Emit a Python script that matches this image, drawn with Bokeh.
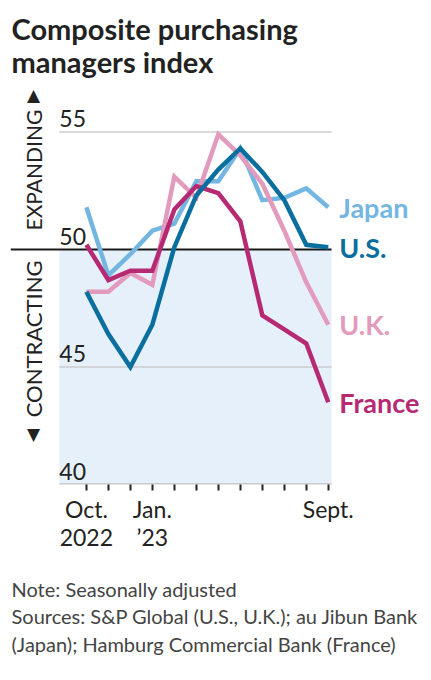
import math
from bokeh.plotting import figure
from bokeh.models import FixedTicker, Title, ColumnDataSource, Range1d
from bokeh.embed import file_html
from bokeh.resources import INLINE
from bokeh.core.properties import value

# ---- data ----
months = ["Oct. 2022", "Nov.", "Dec.", "Jan. 2023", "Feb.", "Mar.", "Apr.",
          "May", "June", "July", "Aug.", "Sept."]
month_idx = list(range(len(months)))
x_tick_labels = {0: "Oct.\n2022", 3: "Jan.\n\u201923", 11: "Sept."}
y_ticks = [40, 45, 50, 55]
y_tick_labels = ["40", "45", "50", "55"]
threshold = 50

japan = [51.8, 48.9, 49.8, 50.8, 51.1, 52.9, 52.9, 54.3, 52.1, 52.2, 52.6, 51.8]
us = [48.2, 46.4, 45.0, 46.8, 50.1, 52.3, 53.4, 54.3, 53.3, 52.1, 50.2, 50.1]
uk = [48.2, 48.2, 49.0, 48.5, 53.1, 52.2, 54.9, 54.0, 52.8, 50.8, 48.6, 46.8]
france = [50.2, 48.7, 49.1, 49.1, 51.7, 52.7, 52.4, 51.2, 47.2, 46.6, 46.0, 43.5]

series_names = ["Japan", "U.K.", "France", "U.S."]
series_values = [japan, uk, france, us]
series_colors = ["#74b6e2", "#e29abd", "#b52a72", "#0a6f9e"]

title_text = "Composite purchasing\nmanagers index"
note_text = ("Note: Seasonally adjusted\n"
             "Sources: S&P Global (U.S., U.K.); au Jibun Bank\n"
             "(Japan); Hamburg Commercial Bank (France)")

# ---- layout constants ----
FONT = "Lato"
X_START, X_END = -3.45, 15.33
GRID_X0, GRID_X1 = -1.23, 11.15
Y_START, Y_END = 40, 40 + 398 / 23.5

p = figure(frame_width=413, frame_height=398,
           x_range=Range1d(X_START, X_END), y_range=Range1d(Y_START, Y_END),
           output_backend="svg", toolbar_location=None,
           y_axis_location=None,
           min_border_left=10, min_border_right=0,
           min_border_top=86, min_border_bottom=190)
p.outline_line_color = None
p.xgrid.visible = False
p.ygrid.visible = False
p.background_fill_color = "white"
p.border_fill_color = "white"

# title
p.title = Title(text=title_text, text_font=FONT, text_font_size="29px",
                text_font_style="bold", text_color="#222222", align="left",
                offset=1, standoff=14, text_line_height=0.97)

# shaded contracting area
p.quad(left=[GRID_X0], right=[GRID_X1], bottom=[Y_START], top=[threshold],
       fill_color="#e6f0fa", line_color=None)

# gridlines
grid_src = ColumnDataSource(dict(
    x0=[GRID_X0 for t in y_ticks if t not in (threshold, Y_START)],
    x1=[GRID_X1 for t in y_ticks if t not in (threshold, Y_START)],
    y=[t for t in y_ticks if t not in (threshold, Y_START)]))
p.segment(x0="x0", x1="x1", y0="y", y1="y", source=grid_src,
          line_color="#cccccc", line_width=1.5)
# bottom axis line
p.segment(x0=[GRID_X0], x1=[GRID_X1], y0=[Y_START], y1=[Y_START],
          line_color="#cccccc", line_width=3)
# threshold line
p.segment(x0=[X_START], x1=[GRID_X1], y0=[threshold], y1=[threshold],
          line_color="#1a1a1a", line_width=2)

# y tick labels
p.text(x=[GRID_X0] * len(y_ticks), y=y_ticks, text=y_tick_labels,
       text_font=value(FONT), text_font_size="23px", text_color="#222222",
       text_align="left", text_baseline="bottom", y_offset=-5)

# expanding / contracting labels with arrows
p.text(x=[X_START], y=[threshold], text=["EXPANDING"], angle=math.pi / 2,
       text_font=value(FONT), text_font_size="21px", text_color="#222222",
       text_align="left", text_baseline="middle", x_offset=23, y_offset=-19)
p.text(x=[X_START], y=[threshold], text=["CONTRACTING"], angle=math.pi / 2,
       text_font=value(FONT), text_font_size="22px", text_color="#222222",
       text_align="right", text_baseline="middle", x_offset=23, y_offset=11)
p.text(x=[X_START, X_START], y=[threshold, threshold], text=["\u25B2", "\u25BC"],
       text_font=value("DejaVu Sans"), text_font_size="17px", text_color="#222222",
       text_align="center", text_baseline="middle", x_offset=23,
       y_offset=[-155, 184])

# lines
for name, vals, col in zip(series_names, series_values, series_colors):
    p.line(month_idx, vals, line_color=col, line_width=4.5, line_join="miter")

# end labels
lab_src = ColumnDataSource(dict(
    x=[month_idx[-1]] * len(series_names),
    y=[v[-1] for v in series_values],
    text=series_names, color=series_colors))
p.text(x="x", y="y", text="text", source=lab_src, text_color="color",
       text_font=value(FONT), text_font_size="27px", text_font_style="bold",
       text_align="left", text_baseline="middle", x_offset=11)

# x axis
ax = p.xaxis[0]
ax.ticker = FixedTicker(ticks=month_idx, minor_ticks=[])
ax.major_label_overrides = {i: x_tick_labels.get(i, "") for i in month_idx}
ax.axis_line_color = None
ax.major_tick_line_color = "#222222"
ax.major_tick_line_width = 2
ax.major_tick_out = 6
ax.major_tick_in = 0
ax.major_label_standoff = 4
ax.major_label_text_font = FONT
ax.major_label_text_font_size = "23px"
ax.major_label_text_color = "#222222"
ax.major_label_text_line_height = 1.0

# note
p.add_layout(Title(text=note_text, text_font=FONT, text_font_size="20px",
                   text_font_style="normal", text_color="#444444",
                   align="left", offset=1, standoff=43,
                   text_line_height=1.15), "below")

open("out.html", "w").write(file_html(p, INLINE))
